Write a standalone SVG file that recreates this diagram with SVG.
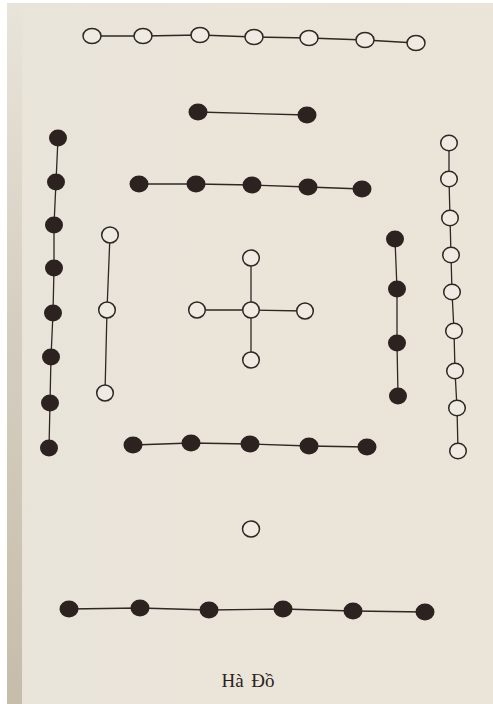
<svg xmlns="http://www.w3.org/2000/svg" width="493" height="704" viewBox="0 0 493 704">
<defs>
<linearGradient id="edge" x1="0" y1="0" x2="0" y2="1">
<stop offset="0" stop-color="#c9c0b0" stop-opacity="0"/>
<stop offset="0.45" stop-color="#c9c0b0" stop-opacity="0.6"/>
<stop offset="1" stop-color="#c6bcaa" stop-opacity="1"/>
</linearGradient>
<linearGradient id="paper" x1="0" y1="0" x2="1" y2="0">
<stop offset="0" stop-color="#e9e4da"/>
<stop offset="1" stop-color="#ebe4d8"/>
</linearGradient>
</defs>
<style>
.o{fill:#efebe2;stroke:#2e2724;stroke-width:1.5}
.f{fill:#2c2321;stroke:none}
.c{fill:none;stroke:#2e2724;stroke-width:1.3}
.t{font-family:"Liberation Serif","Times New Roman",serif;font-size:19px;fill:#2a2420}
</style>
<rect x="0" y="0" width="493" height="704" fill="#ffffff"/>
<rect x="7" y="3" width="486" height="701" fill="url(#paper)"/>
<rect x="7" y="3" width="15" height="701" fill="url(#edge)"/>

<g id="connectors">
<polyline class="c" points="92,36 143,36 200,35 254,37 309,38 365,40 416,43"/>
<polyline class="c" points="198,112 307,115"/>
<polyline class="c" points="139,184 196,184 252,185 308,187 362,189"/>
<polyline class="c" points="58,138 56,182 54,225 54,268 53,313 51,357 50,403 49,448"/>
<polyline class="c" points="110,235 107,310 105,393"/>
<polyline class="c" points="197,310 251,310 305,311"/>
<polyline class="c" points="251,258 251,310 251,360"/>
<polyline class="c" points="395,239 397,289 397,343 398,396"/>
<polyline class="c" points="449,143 449,179 450,218 451,255 452,292 454,331 455,371 457,408 458,451"/>
<polyline class="c" points="133,445 191,443 250,444 309,446 367,447"/>
<polyline class="c" points="69,609 140,608 209,610 283,609 353,611 425,612"/>
</g>

<g id="top-seven">
<g id="t1"><ellipse class="o" cx="92" cy="36" rx="9" ry="7.5"/></g>
<g id="t2"><ellipse class="o" cx="143" cy="36" rx="9" ry="7.5"/></g>
<g id="t3"><ellipse class="o" cx="200" cy="35" rx="9" ry="7.5"/></g>
<g id="t4"><ellipse class="o" cx="254" cy="37" rx="9" ry="7.5"/></g>
<g id="t5"><ellipse class="o" cx="309" cy="38" rx="9" ry="7.5"/></g>
<g id="t6"><ellipse class="o" cx="365" cy="40" rx="9" ry="7.5"/></g>
<g id="t7"><ellipse class="o" cx="416" cy="43" rx="9" ry="7.5"/></g>
</g>

<g id="top-two">
<g id="d1"><ellipse class="f" cx="198" cy="112" rx="9.5" ry="8.5"/></g>
<g id="d2"><ellipse class="f" cx="307" cy="115" rx="9.5" ry="8.5"/></g>
</g>

<g id="upper-five">
<g id="u1"><ellipse class="f" cx="139" cy="184" rx="9.5" ry="8.5"/></g>
<g id="u2"><ellipse class="f" cx="196" cy="184" rx="9.5" ry="8.5"/></g>
<g id="u3"><ellipse class="f" cx="252" cy="185" rx="9.5" ry="8.5"/></g>
<g id="u4"><ellipse class="f" cx="308" cy="187" rx="9.5" ry="8.5"/></g>
<g id="u5"><ellipse class="f" cx="362" cy="189" rx="9.5" ry="8.5"/></g>
</g>

<g id="left-eight">
<g id="l1"><ellipse class="f" cx="58" cy="138" rx="9" ry="8.5"/></g>
<g id="l2"><ellipse class="f" cx="56" cy="182" rx="9" ry="8.5"/></g>
<g id="l3"><ellipse class="f" cx="54" cy="225" rx="9" ry="8.5"/></g>
<g id="l4"><ellipse class="f" cx="54" cy="268" rx="9" ry="8.5"/></g>
<g id="l5"><ellipse class="f" cx="53" cy="313" rx="9" ry="8.5"/></g>
<g id="l6"><ellipse class="f" cx="51" cy="357" rx="9" ry="8.5"/></g>
<g id="l7"><ellipse class="f" cx="50" cy="403" rx="9" ry="8.5"/></g>
<g id="l8"><ellipse class="f" cx="49" cy="448" rx="9" ry="8.5"/></g>
</g>

<g id="left-three">
<g id="m1"><ellipse class="o" cx="110" cy="235" rx="8.3" ry="8"/></g>
<g id="m2"><ellipse class="o" cx="107" cy="310" rx="8.3" ry="8"/></g>
<g id="m3"><ellipse class="o" cx="105" cy="393" rx="8.3" ry="8"/></g>
</g>

<g id="center-five">
<g id="c1"><ellipse class="o" cx="197" cy="310" rx="8.3" ry="8"/></g>
<g id="c2"><ellipse class="o" cx="251" cy="258" rx="8.3" ry="8"/></g>
<g id="c3"><ellipse class="o" cx="251" cy="310" rx="8.3" ry="8"/></g>
<g id="c4"><ellipse class="o" cx="305" cy="311" rx="8.3" ry="8"/></g>
<g id="c5"><ellipse class="o" cx="251" cy="360" rx="8.3" ry="8"/></g>
</g>

<g id="right-four">
<g id="r1"><ellipse class="f" cx="395" cy="239" rx="9" ry="8.5"/></g>
<g id="r2"><ellipse class="f" cx="397" cy="289" rx="9" ry="8.5"/></g>
<g id="r3"><ellipse class="f" cx="397" cy="343" rx="9" ry="8.5"/></g>
<g id="r4"><ellipse class="f" cx="398" cy="396" rx="9" ry="8.5"/></g>
</g>

<g id="right-nine">
<g id="n1"><ellipse class="o" cx="449" cy="143" rx="8.3" ry="7.8"/></g>
<g id="n2"><ellipse class="o" cx="449" cy="179" rx="8.3" ry="7.8"/></g>
<g id="n3"><ellipse class="o" cx="450" cy="218" rx="8.3" ry="7.8"/></g>
<g id="n4"><ellipse class="o" cx="451" cy="255" rx="8.3" ry="7.8"/></g>
<g id="n5"><ellipse class="o" cx="452" cy="292" rx="8.3" ry="7.8"/></g>
<g id="n6"><ellipse class="o" cx="454" cy="331" rx="8.3" ry="7.8"/></g>
<g id="n7"><ellipse class="o" cx="455" cy="371" rx="8.3" ry="7.8"/></g>
<g id="n8"><ellipse class="o" cx="457" cy="408" rx="8.3" ry="7.8"/></g>
<g id="n9"><ellipse class="o" cx="458" cy="451" rx="8.3" ry="7.8"/></g>
</g>

<g id="lower-five">
<g id="w1"><ellipse class="f" cx="133" cy="445" rx="9.5" ry="8.5"/></g>
<g id="w2"><ellipse class="f" cx="191" cy="443" rx="9.5" ry="8.5"/></g>
<g id="w3"><ellipse class="f" cx="250" cy="444" rx="9.5" ry="8.5"/></g>
<g id="w4"><ellipse class="f" cx="309" cy="446" rx="9.5" ry="8.5"/></g>
<g id="w5"><ellipse class="f" cx="367" cy="447" rx="9.5" ry="8.5"/></g>
</g>

<g id="lower-one">
<g id="s1"><ellipse class="o" cx="251" cy="529" rx="8.5" ry="8"/></g>
</g>

<g id="bottom-six">
<g id="b1"><ellipse class="f" cx="69" cy="609" rx="9.5" ry="8.5"/></g>
<g id="b2"><ellipse class="f" cx="140" cy="608" rx="9.5" ry="8.5"/></g>
<g id="b3"><ellipse class="f" cx="209" cy="610" rx="9.5" ry="8.5"/></g>
<g id="b4"><ellipse class="f" cx="283" cy="609" rx="9.5" ry="8.5"/></g>
<g id="b5"><ellipse class="f" cx="353" cy="611" rx="9.5" ry="8.5"/></g>
<g id="b6"><ellipse class="f" cx="425" cy="612" rx="9.5" ry="8.5"/></g>
</g>

<g id="caption">
<text class="t" x="248" y="687" text-anchor="middle" word-spacing="3">Hà Đồ</text>
</g>
</svg>
